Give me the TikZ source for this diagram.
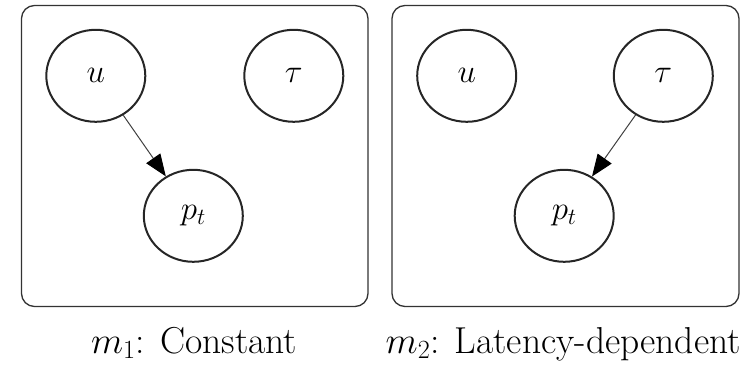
\RequirePackage{fix-cm}
\documentclass[tikz,border=0pt]{standalone}
\usetikzlibrary{arrows.meta,shapes.geometric}
\begin{document}
\begin{tikzpicture}[x=1pt,y=-1pt,
  panel/.style={draw=black!80,line width=1.3pt,rounded corners=13pt},
  var/.style={draw=black!85,line width=2pt,ellipse,minimum width=99pt,minimum height=92pt,inner sep=0pt,font=\fontsize{33}{37}\selectfont},
  edge/.style={draw=black!75,line width=1pt,-{Triangle[length=22pt,width=17pt,color=black]}},
  captext/.style={font=\fontsize{37.5}{42}\selectfont,inner sep=0pt}]
\useasboundingbox (0,0) rectangle (748,369);
% left panel
\draw[panel] (21.5,5.5) rectangle (368,306.5);
\node[var] (u1) at (95.8,75.8) {$u$};
\node[var] (t1) at (293.8,75.8) {$\tau$};
\node[var] (p1) at (193.3,215.8) {$p_t$};
\draw[edge] (u1) -- (p1);
\node[captext,anchor=base] (c1) at (194,353) {$m_1$: Constant};
% right panel
\draw[panel] (392,5.5) rectangle (739,306.5);
\node[var] (u2) at (466.7,75.8) {$u$};
\node[var] (t2) at (663.3,75.8) {$\tau$};
\node[var] (p2) at (564.2,215.8) {$p_t$};
\draw[edge] (t2) -- (p2);
\node[captext,anchor=base] (c2) at (563.3,353) {$m_2$: Latency-dependent};
\end{tikzpicture}
\end{document}
